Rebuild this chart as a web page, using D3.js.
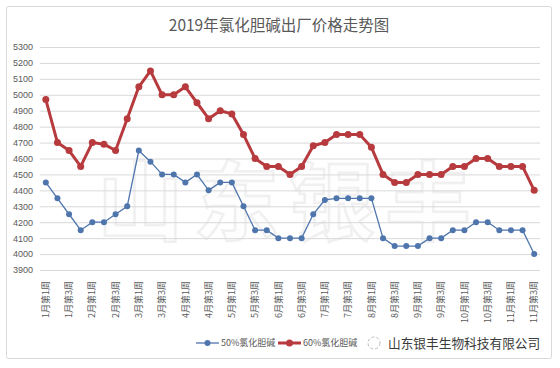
<!DOCTYPE html>
<html><head><meta charset="utf-8">
<script src="https://cdn.jsdelivr.net/npm/d3@7"></script>
<style>
html,body{margin:0;padding:0;background:#fff;}
svg{display:block;font-family:"Liberation Sans","Noto Sans CJK SC",sans-serif;}
</style></head>
<body><svg id="c" width="560" height="368"></svg>
<script>
const title = "2019年氯化胆碱出厂价格走势图";
const months = [1,2,3,4,5,6,7,8,9,10,11];
const categories = [];
months.forEach(m => { for (let w = 1; w <= 4; w++) { if (m === 11 && w > 3) break; categories.push(m + "月第" + w + "周"); } });
const seriesNames = ["50%氯化胆碱", "60%氯化胆碱"];
const s50 = [4450,4350,4250,4150,4200,4200,4250,4300,4650,4580,4500,4500,4450,4500,4400,4450,4450,4300,4150,4150,4100,4100,4100,4250,4340,4350,4350,4350,4350,4100,4050,4050,4050,4100,4100,4150,4150,4200,4200,4150,4150,4150,4000];
const s60 = [4970,4700,4650,4550,4700,4690,4650,4850,5050,5150,5000,5000,5050,4950,4850,4900,4880,4750,4600,4550,4550,4500,4550,4680,4700,4750,4750,4750,4670,4500,4450,4450,4500,4500,4500,4550,4550,4600,4600,4550,4550,4550,4400];
const yTicks = d3.range(3900, 5301, 100);
const watermark = "山东银丰";
const footer = "山东银丰生物科技有限公司";

const svg = d3.select("#c");
const L = 40, R = 540, T = 47, B = 270;
const x = d3.scaleBand().domain(categories).range([L, R]);
const y = d3.scaleLinear().domain([3900, 5300]).range([B, T]);
const cx = d => x(d) + x.bandwidth() / 2;

// frame
svg.append("rect").attr("x", 6.5).attr("y", 6.5).attr("width", 545).attr("height", 352)
  .attr("fill", "#fff").attr("stroke", "#d9d9d9").attr("rx", 2);

// background watermark
svg.append("text").attr("x", 97).attr("y", 234).attr("font-size", 86).attr("font-weight", "bold")
  .attr("letter-spacing", 10)
  .attr("font-family", "Noto Sans CJK SC").attr("fill", "#fefefe").attr("stroke", "#f0f0f0").attr("stroke-width", 2.5)
  .text(watermark);

// title
svg.append("text").attr("x", 279).attr("y", 31).attr("text-anchor", "middle")
  .attr("font-size", 15.5).attr("fill", "#595959").attr("font-family", "Noto Sans CJK SC").text(title);

// grid
svg.append("g").selectAll("line").data(yTicks).join("line")
  .attr("x1", L).attr("x2", R).attr("y1", d => y(d) + 0.5).attr("y2", d => y(d) + 0.5)
  .attr("stroke", "#d9d9d9").attr("stroke-width", 1);

// y axis
const ya = svg.append("g").attr("transform", `translate(${L},0)`)
  .call(d3.axisLeft(y).tickValues(yTicks).tickFormat(d3.format("d")).tickSize(0).tickPadding(7));
ya.select(".domain").remove();
ya.selectAll("text").attr("font-size", 9).attr("fill", "#595959").attr("font-family", "Liberation Sans");

// x axis
const xa = svg.append("g").attr("transform", `translate(0,${B})`)
  .call(d3.axisBottom(x).tickValues(categories.filter((d, i) => i % 2 === 0)).tickSize(0));
xa.select(".domain").remove();
xa.selectAll("text").attr("font-size", 9).attr("fill", "#595959").attr("font-family", "Noto Sans CJK SC")
  .attr("transform", "rotate(-90)").attr("text-anchor", "end").attr("x", -11).attr("y", 0).attr("dy", "0.35em");

// series
const line = d3.line().x((d, i) => cx(categories[i])).y(d => y(d));
const blue = "#4f75ad", red = "#b73b3e";
svg.append("path").datum(s60).attr("d", line).attr("fill", "none").attr("stroke", red).attr("stroke-width", 3).attr("stroke-linejoin", "round");
svg.append("g").selectAll("circle").data(s60).join("circle")
  .attr("cx", (d, i) => cx(categories[i])).attr("cy", d => y(d)).attr("r", 3.5).attr("fill", red);
svg.append("path").datum(s50).attr("d", line).attr("fill", "none").attr("stroke", blue).attr("stroke-width", 1.3);
svg.append("g").selectAll("circle").data(s50).join("circle")
  .attr("cx", (d, i) => cx(categories[i])).attr("cy", d => y(d)).attr("r", 3).attr("fill", blue);

// legend
const lg = svg.append("g").attr("transform", "translate(0,343)");
[[196, blue, 1.3, 3, seriesNames[0]], [278, red, 3, 3.5, seriesNames[1]]].forEach(([lx, c, w, r, t]) => {
  lg.append("line").attr("x1", lx).attr("x2", lx + 23).attr("y1", 0).attr("y2", 0).attr("stroke", c).attr("stroke-width", w);
  lg.append("circle").attr("cx", lx + 11.5).attr("cy", 0).attr("r", r).attr("fill", c);
  lg.append("text").attr("x", lx + 25).attr("y", 0).attr("dy", "0.35em").attr("font-size", 9)
    .attr("fill", "#595959").attr("font-family", "Noto Sans CJK SC").text(t);
});

// footer watermark
svg.append("circle").attr("cx", 374).attr("cy", 343).attr("r", 6).attr("fill", "none").attr("stroke", "#bbb").attr("stroke-dasharray", "3,2");
svg.append("text").attr("x", 388).attr("y", 343).attr("dy", "0.38em").attr("font-size", 12.7)
  .attr("fill", "#3a3a3a").attr("font-family", "Noto Sans CJK SC").text(footer);
</script></body></html>
